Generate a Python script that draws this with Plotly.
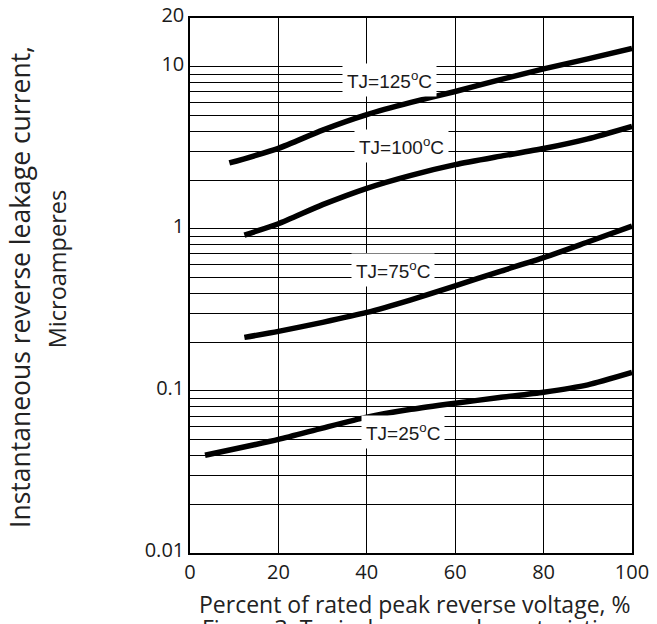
import plotly.graph_objects as go
import math

# Percent of rated peak reverse voltage
x_125 = [8.9, 20, 30, 40, 50, 60, 70, 80, 90, 100]
y_125 = [2.55, 3.14, 4.07, 5.07, 6.03, 7.04, 8.30, 9.70, 11.2, 13.0]

x_100 = [12.3, 20, 30, 40, 50, 60, 70, 80, 90, 100]
y_100 = [0.916, 1.075, 1.41, 1.78, 2.14, 2.49, 2.80, 3.13, 3.59, 4.29]

x_75 = [12.3, 20, 30, 40, 50, 60, 70, 80, 90, 100]
y_75 = [0.214, 0.233, 0.265, 0.305, 0.365, 0.445, 0.545, 0.664, 0.830, 1.04]

x_25 = [3.4, 20, 30, 40, 50, 60, 70, 80, 90, 100]
y_25 = [0.0401, 0.0502, 0.0590, 0.0689, 0.0770, 0.0840, 0.0910, 0.0982, 0.109, 0.130]

series_names = ["TJ=125°C", "TJ=100°C", "TJ=75°C", "TJ=25°C"]
label_text = ["TJ=125<sup>o</sup>C", "TJ=100<sup>o</sup>C", "TJ=75<sup>o</sup>C", "TJ=25<sup>o</sup>C"]
label_x = [45.1, 47.9, 46.0, 48.3]
label_y = [8.25, 3.23, 0.56, 0.0555]

x_ticks = [0, 20, 40, 60, 80, 100]
y_ticks = [0.01, 0.1, 1, 10, 20]
y_ticktext = ["0.01", "0.1", "1", "10", "20"]
y_minor = [m * d for d in (0.01, 0.1, 1) for m in range(2, 10)]

fig = go.Figure()
for xs, ys, name in [(x_125, y_125, series_names[0]), (x_100, y_100, series_names[1]),
                     (x_75, y_75, series_names[2]), (x_25, y_25, series_names[3])]:
    fig.add_trace(go.Scatter(x=xs, y=ys, mode="lines", name=name,
                             line=dict(color="black", width=5.5, shape="spline", smoothing=0.6),
                             showlegend=False, hoverinfo="skip"))

for t, lx, ly in zip(label_text, label_x, label_y):
    fig.add_annotation(x=lx, y=math.log10(ly), xref="x", yref="y", text=t, showarrow=False,
                       font=dict(family="Liberation Sans, Arial", size=19, color="#1a1a1a"),
                       bgcolor="white", borderpad=4)

tick_font = dict(family="Open Sans", size=20, color="#1a1a1a")
fig.update_xaxes(range=[0, 100], tickvals=x_ticks, showgrid=True, gridcolor="black", gridwidth=1.3,
                 showline=True, linecolor="black", linewidth=1.5, mirror=True, ticks="",
                 tickfont=tick_font, zeroline=False, automargin=False)
fig.update_yaxes(type="log", range=[-2, 1.30103], tickvals=y_ticks, ticktext=y_ticktext,
                 showgrid=True, gridcolor="black", gridwidth=1.3,
                 minor=dict(tickmode="array", tickvals=y_minor, showgrid=True,
                            gridcolor="black", gridwidth=1.3, ticks=""),
                 showline=True, linecolor="black", linewidth=1.5, mirror=True, ticks="",
                 tickfont=tick_font, zeroline=False, ticklabeloverflow="allow",
                 ticklabelshift=-3, automargin=False)

fig.add_annotation(x=0.509, y=-0.0953, xref="paper", yref="paper", yanchor="middle",
                   text="Percent of rated peak reverse voltage, %", showarrow=False,
                   font=dict(family="Open Sans", size=23, color="#222"))
fig.add_annotation(x=-0.385, y=0.497, xref="paper", yref="paper", textangle=-90,
                   xanchor="center", yanchor="middle",
                   text="Instantaneous reverse leakage current,", showarrow=False,
                   font=dict(family="Open Sans", size=26.5, color="#222"))
fig.add_annotation(x=-0.299, y=0.53, xref="paper", yref="paper", textangle=-90,
                   xanchor="center", yanchor="middle",
                   text="Microamperes", showarrow=False,
                   font=dict(family="Open Sans", size=23.5, color="#222"))
fig.add_annotation(x=0.5, y=-0.107, xref="paper", yref="paper", yanchor="top",
                   text="Figure 3. Typical reverse characteristics", showarrow=False,
                   font=dict(family="Open Sans", size=23, color="#222"))

fig.update_layout(width=649, height=616, margin=dict(l=182, r=25, t=10, b=71),
                  plot_bgcolor="white", paper_bgcolor="white")
fig.write_html("out.html")
